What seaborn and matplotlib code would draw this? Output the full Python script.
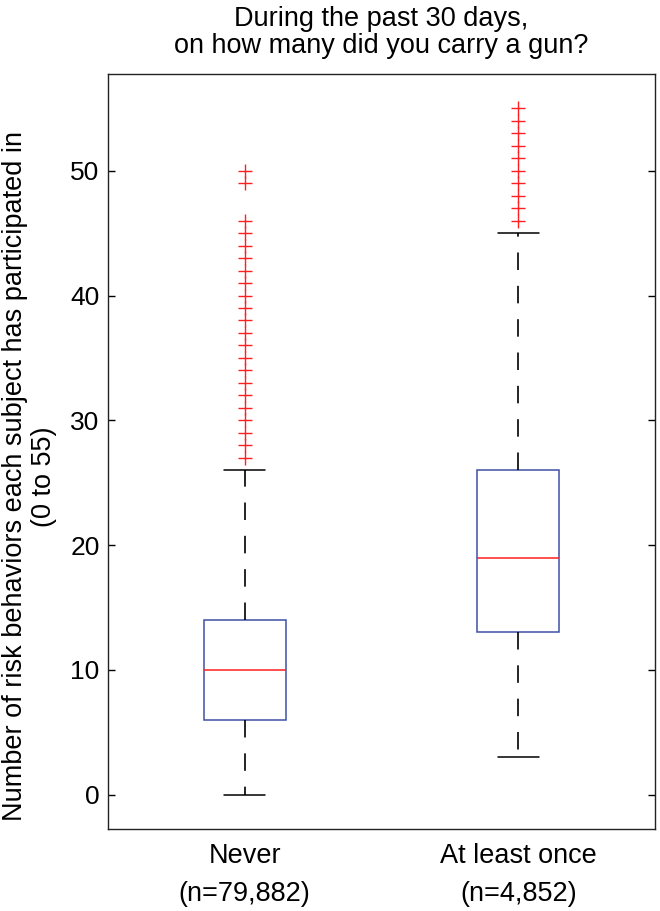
import numpy as np
import pandas as pd
import matplotlib
matplotlib.use("Agg")
import matplotlib.pyplot as plt
import seaborn as sns

# ---- data ----
groups = ["Never", "At least once"]
group_n = ["79,882", "4,852"]
whisker_low = [0, 3]
q1 = [6, 13]
median = [10, 19]
q3 = [14, 26]
whisker_high = [26, 45]
outliers_never = list(range(27, 47)) + [49, 50]
outliers_once = list(range(46, 56))
outliers = [outliers_never, outliers_once]
yticks = [0, 10, 20, 30, 40, 50]

title = "During the past 30 days,\non how many did you carry a gun?"
ylabel = "Number of risk behaviors each subject has participated in\n(0 to 55)"

BLUE = "#3f4fa6"
RED = "#ff1f1f"


def build_table():
    # long-form table whose quartiles / whiskers / fliers equal the summary lists
    rows = []
    k = 30
    for i, g in enumerate(groups):
        vals = ([whisker_low[i]] + [q1[i]] * k + [median[i]] * k + [q3[i]] * k
                + [whisker_high[i]] + outliers[i])
        rows += [(g, v) for v in vals]
    return pd.DataFrame(rows, columns=["group", "count"])


sns.set_style("white")
plt.rcParams["font.family"] = ["Liberation Sans", "DejaVu Sans"]
plt.rcParams["text.color"] = "black"
plt.rcParams["axes.labelcolor"] = "black"
plt.rcParams["xtick.color"] = "black"
plt.rcParams["ytick.color"] = "black"

df = build_table()

fig = plt.figure(figsize=(6.6, 9.11), dpi=100)
ax = fig.add_axes([108 / 660, 1 - 829 / 911, 547 / 660, (829 - 74) / 911])

sns.boxplot(data=df, x="group", y="count", order=groups, ax=ax, width=0.3, whis=1.5,
            boxprops=dict(facecolor="none", edgecolor=BLUE, linewidth=1.1),
            medianprops=dict(color=RED, linewidth=1.1),
            whiskerprops=dict(color="black", linewidth=1.2, linestyle=(0, (10.5, 9.5))),
            capprops=dict(color="black", linewidth=1.1),
            flierprops=dict(marker="+", markersize=10, markeredgecolor=RED,
                            markeredgewidth=1.0, markerfacecolor=RED))

ax.set_xlim(-0.5, 1.5)
ax.set_ylim(-2.75, 57.75)
ax.set_yticks(yticks)
ax.set_xticks([0, 1])
ax.set_xticklabels([f"{g}\n(n={n})" for g, n in zip(groups, group_n)],
                   fontsize=19.5, linespacing=1.6)
ax.tick_params(axis="x", length=0, pad=10)
ax.tick_params(axis="y", direction="in", length=5, width=1, labelsize=19, pad=6,
               right=True, left=True)
ax.set_xlabel("")
ax.set_ylabel(ylabel, fontsize=19.5, linespacing=1.15)
ax.yaxis.set_label_coords(-0.093, 0.467)
ax.set_title(title, fontsize=19.5, linespacing=1.08, pad=15)

for s in ax.spines.values():
    s.set_visible(True)
    s.set_color("#222222")
    s.set_linewidth(1.0)

fig.savefig("out.png", dpi=100, facecolor="white")
